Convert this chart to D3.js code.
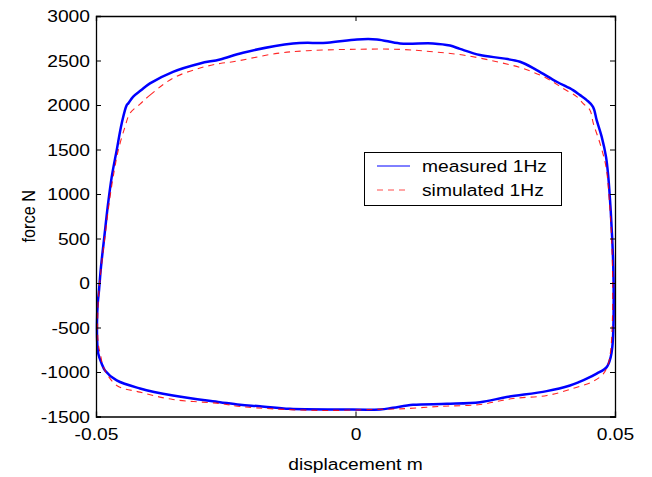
<!DOCTYPE html>
<html><head><meta charset="utf-8">
<script src="https://cdn.jsdelivr.net/npm/d3@7"></script>
<style>body{margin:0;background:#fff}svg{display:block}text{font-family:Arial,"Liberation Sans",sans-serif}</style>
</head><body><svg id="c" width="652" height="477"></svg>
<script>
// measured loop (displacement m, force N)
const measuredX = [-0.04378,-0.04287,-0.04133,-0.03960,-0.03516,-0.02996,-0.02611,-0.02168,-0.01204,-0.00549,0.00029,0.00414,0.00857,0.01493,0.01821,0.02013,0.02399,0.02842,0.03170,0.03491,0.03877,0.04191,0.04326,0.04455,0.04576,0.04647,0.04744,0.04827,0.04871,0.04917,0.04948,0.04967,0.04975,0.04967,0.04948,0.04917,0.04840,0.04647,0.04455,0.04326,0.04133,0.03684,0.02913,0.02399,0.01763,0.01108,0.00723,0.00472,-0.00299,-0.01262,-0.01840,-0.02225,-0.02611,-0.03516,-0.04152,-0.04601,-0.04827,-0.04890,-0.04956,-0.04975,-0.04981,-0.04967,-0.04942,-0.04904,-0.04840,-0.04775,-0.04697,-0.04601,-0.04505,-0.04408];
const measuredF = [2018,2092,2165,2243,2373,2467,2512,2588,2692,2700,2737,2737,2692,2692,2668,2630,2561,2524,2486,2392,2261,2167,2111,2055,1980,1830,1642,1417,1192,817,480,180,-157,-532,-720,-832,-945,-1018,-1075,-1108,-1151,-1215,-1282,-1339,-1358,-1369,-1402,-1421,-1421,-1414,-1385,-1369,-1339,-1264,-1185,-1095,-982,-907,-795,-682,-457,-232,-82,180,517,855,1192,1493,1793,1999];
// simulated loop
const simulatedX = [-0.04152,-0.03960,-0.03516,-0.02996,-0.02611,-0.02360,-0.01513,-0.00934,-0.00106,0.00857,0.01493,0.02071,0.02726,0.03227,0.03690,0.03998,0.04268,0.04383,0.04518,0.04582,0.04711,0.04827,0.04890,0.04936,0.04955,0.04948,0.04917,0.04871,0.04775,0.04576,0.04191,0.03690,0.03035,0.02399,0.01628,0.00857,0.00337,-0.00626,-0.01590,-0.02225,-0.02611,-0.03516,-0.04152,-0.04601,-0.04859,-0.04904,-0.04956,-0.04967,-0.04942,-0.04890,-0.04813,-0.04730,-0.04647,-0.04570,-0.04441,-0.04345];
const simulatedF = [2010,2111,2302,2415,2467,2486,2580,2610,2625,2625,2598,2561,2486,2411,2299,2187,2092,2018,1942,1793,1568,1305,930,480,-7,-457,-757,-907,-1020,-1106,-1185,-1264,-1298,-1365,-1387,-1414,-1421,-1432,-1414,-1387,-1354,-1309,-1226,-1151,-945,-832,-682,-382,-82,217,592,967,1267,1493,1755,1907];
const xTicks = [-0.05, 0, 0.05];
const xTickLabels = ["-0.05","0","0.05"];
const yTicks = [-1500,-1000,-500,0,500,1000,1500,2000,2500,3000];
const legendLabels = ["measured 1Hz","simulated 1Hz"];

const svg = d3.select("#c");
const L=96, T=16, R=615, B=416.5;
const FS = 16.3, SX = 1.18;
const x = d3.scaleLinear().domain([-0.05,0.05]).range([L,R]);
const y = d3.scaleLinear().domain([-1500,3000]).range([B,T]);

const line = d3.line().x(d=>x(d[0])).y(d=>y(d[1])).curve(d3.curveCatmullRomClosed.alpha(0.5));
const mData = measuredX.map((v,i)=>[v,measuredF[i]]);
const sData = simulatedX.map((v,i)=>[v,simulatedF[i]]);

const g = svg.append("g");
g.append("path").attr("d", line(mData)).attr("fill","none").attr("stroke","#0000ff").attr("stroke-width",2.5);
g.append("path").attr("d", line(sData)).attr("fill","none").attr("stroke","#ff0000").attr("stroke-opacity",0.85).attr("stroke-width",1.1).attr("stroke-dasharray","6,5");

// axes (box with inward ticks)
const tl = 5;
const axL = d3.axisLeft(y).tickValues(yTicks).tickSize(-tl).tickFormat(d=>String(d));
const axR = d3.axisRight(y).tickValues(yTicks).tickSize(-tl).tickFormat("");
const axB = d3.axisBottom(x).tickValues(xTicks).tickSize(-tl).tickFormat((d,i)=>xTickLabels[i]);
const axT = d3.axisTop(x).tickValues(xTicks).tickSize(-tl).tickFormat("");
const gl = svg.append("g").attr("transform",`translate(${L},0)`).call(axL);
const gr = svg.append("g").attr("transform",`translate(${R},0)`).call(axR);
const gb = svg.append("g").attr("transform",`translate(0,${B})`).call(axB);
const gt = svg.append("g").attr("transform",`translate(0,${T})`).call(axT);
[gl,gr,gb,gt].forEach(gg=>{
  gg.select(".domain").attr("stroke","#000").attr("stroke-width",1.3);
  gg.selectAll(".tick line").attr("stroke","#000");
  gg.selectAll("text").attr("font-size",FS).attr("fill","#000").style("font-family","Arial, 'Liberation Sans', sans-serif");
});
gl.selectAll(".tick text").attr("x",-6/SX).attr("dy","0.34em").attr("transform",`scale(${SX},1)`);
gb.selectAll(".tick text").attr("y",12).attr("dy","0.71em").attr("transform",`scale(${SX},1)`);

svg.append("text").attr("transform",`translate(${(L+R)/2},469.5) scale(${SX},1)`).attr("text-anchor","middle").attr("font-size",FS).text("displacement m");
svg.append("text").attr("transform",`translate(35,${(T+B)/2}) scale(${SX},1) rotate(-90)`).attr("text-anchor","middle").attr("font-size",FS).text("force N");

// legend
const lg = svg.append("g");
lg.append("rect").attr("x",364.5).attr("y",152.5).attr("width",197).attr("height",53).attr("fill","#fff").attr("stroke","#000").attr("stroke-width",1);
const rows=[{c:"#0000ff",d:null},{c:"#ff0000",d:"6,5"}];
rows.forEach((r,i)=>{
  const yy = 166 + i*24;
  lg.append("line").attr("x1",377).attr("x2",410).attr("y1",yy).attr("y2",yy).attr("stroke",r.c).attr("stroke-width",1).attr("stroke-dasharray",r.d).attr("stroke-opacity",i?0.7:1);
  lg.append("text").attr("transform",`translate(422,${yy+6}) scale(${SX},1)`).attr("font-size",FS).text(legendLabels[i]);
});
</script></body></html>
